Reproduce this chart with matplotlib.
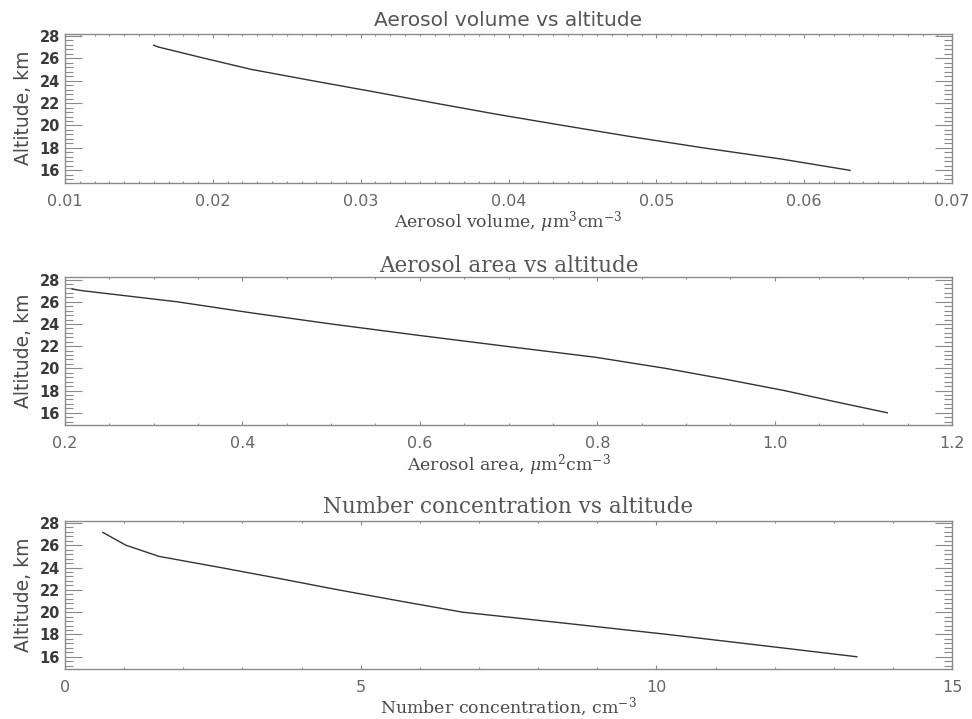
import matplotlib
matplotlib.use("Agg")
import matplotlib.pyplot as plt
from matplotlib.ticker import MultipleLocator

# Altitude grid (km) shared by the three profiles
altitude = [27.15, 27, 26, 25, 24, 23, 22, 21, 20, 19, 18, 17, 16]

# Aerosol volume (um^3 cm^-3)
volume = [0.0160, 0.0163, 0.0194, 0.0226, 0.0267, 0.0309, 0.0350, 0.0392,
          0.0437, 0.0483, 0.0532, 0.0585, 0.0631]

# Aerosol surface area (um^2 cm^-3)
area = [0.208, 0.219, 0.326, 0.410, 0.500, 0.596, 0.696, 0.798,
        0.877, 0.946, 1.011, 1.068, 1.127]

# Number concentration (cm^-3)
number = [0.64, 0.69, 1.03, 1.59, 2.63, 3.64, 4.62, 5.66,
          6.72, 8.47, 10.19, 11.80, 13.39]

panels = [
    dict(x=volume, title="Aerosol volume vs altitude", title_family="DejaVu Sans",
         title_size=14.5, title_pad=5.5, xlabel=r"Aerosol volume, $\mu$m$^3$cm$^{-3}$",
         xlim=(0.01, 0.07), major=0.01, minor=0.001, fmt="{:.2f}",
         rect=[0.0669, 0.7459, 0.9126, 0.2075]),
    dict(x=area, title="Aerosol area vs altitude", title_family="DejaVu Serif",
         title_size=15.5, title_pad=3.8, xlabel=r"Aerosol area, $\mu$m$^2$cm$^{-3}$",
         xlim=(0.2, 1.2), major=0.2, minor=0.05, fmt="{:.1f}",
         rect=[0.0669, 0.4089, 0.9126, 0.2054]),
    dict(x=number, title="Number concentration vs altitude", title_family="DejaVu Serif",
         title_size=15.5, title_pad=5.5, xlabel=r"Number concentration, cm$^{-3}$",
         xlim=(0, 15), major=5, minor=1, fmt="{:.0f}",
         rect=[0.0669, 0.0695, 0.9126, 0.2063]),
]

plt.rcParams["mathtext.fontset"] = "dejavuserif"

frame_col = "#8a8a8a"
text_col = "#4a4a4a"

fig = plt.figure(figsize=(9.72, 7.19), dpi=100)

for p in panels:
    ax = fig.add_axes(p["rect"])
    ax.plot(p["x"], altitude, color="#333333", lw=1.0)
    ax.set_xlim(*p["xlim"])
    ax.set_ylim(14.9, 28.2)

    ax.xaxis.set_major_locator(MultipleLocator(p["major"]))
    ax.xaxis.set_minor_locator(MultipleLocator(p["minor"]))
    ax.yaxis.set_minor_locator(MultipleLocator(0.4))
    ticks = [t for t in ax.get_xticks() if p["xlim"][0] - 1e-9 <= t <= p["xlim"][1] + 1e-9]
    ax.set_xticks(ticks)
    ax.set_xticklabels([p["fmt"].format(t) for t in ticks])
    yt = [16, 18, 20, 22, 24, 26, 28]
    ax.set_yticks(yt)
    ax.set_yticklabels([str(t) for t in yt])

    ax.tick_params(axis="both", which="both", direction="in", top=True, right=True,
                   color=frame_col, width=0.8)
    ax.tick_params(axis="x", which="major", length=2.6, pad=8, labelsize=11.5,
                   labelcolor="#666666")
    ax.tick_params(axis="x", which="minor", length=1.6)
    ax.tick_params(axis="y", which="major", length=12, pad=3.5, labelsize=10.5,
                   labelcolor="#3a3a3a")
    ax.tick_params(axis="y", which="minor", length=5.8)
    for lab in ax.get_yticklabels():
        lab.set_fontweight("bold")

    for s in ax.spines.values():
        s.set_color(frame_col)
        s.set_linewidth(1.0)

    ax.set_title(p["title"], fontsize=p["title_size"], color="#555555",
                 pad=p["title_pad"], family=p["title_family"])
    ax.set_xlabel(p["xlabel"], fontsize=12.5, color=text_col, labelpad=0.5,
                  family="DejaVu Serif")
    ax.set_ylabel("Altitude, km", fontsize=13.5, color=text_col, labelpad=5)

fig.savefig("out.png", dpi=100)
